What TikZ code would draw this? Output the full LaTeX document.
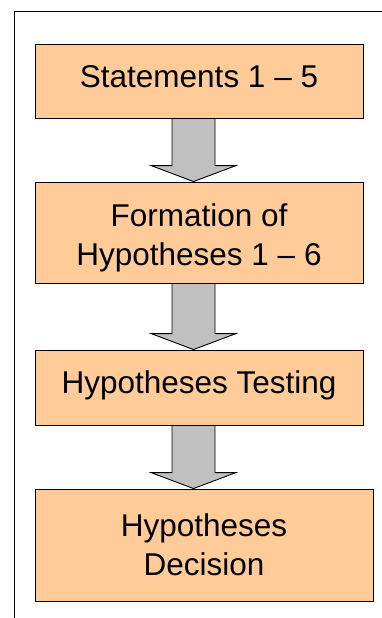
\documentclass[tikz,border=0pt]{standalone}
\usepackage{fontspec}
\setmainfont{Liberation Sans}
\usetikzlibrary{calc}
\definecolor{peach}{HTML}{FFCC99}
\definecolor{arrowgray}{HTML}{C0C0C0}
% block arrow from the bottom of one stage to the top of the next
\newcommand{\stagearrow}[2]{%
  \draw[flowarrow] let \p1=(#1.south), \p2=(#2.north) in
    (172pt,\y1) -- (215pt,\y1) -- (215pt,\y2+16pt) -- (236pt,\y2+16pt)
    -- (193.5pt,\y2) -- (151pt,\y2+16pt) -- (172pt,\y2+16pt) -- cycle;}
\begin{document}
\begin{tikzpicture}[x=1pt,y=-1pt,
  stage/.style={draw=black, line width=0.9pt, fill=peach, inner sep=0pt,
    font=\fontsize{31.5}{38.3}\selectfont, align=center,
    text height=12pt, text depth=0pt},
  flowarrow/.style={draw=black, line width=0.9pt, fill=arrowgray, line join=miter}]
\useasboundingbox (0,0) rectangle (382,618);
% partial outer frame
\draw[line width=1pt] (14,618) -- (14,12) -- (382,12);

\node[stage, minimum width=328pt, minimum height=74pt] (s1) at (199,81) {Statements 1 – 5};
\node[stage, minimum width=328pt, minimum height=101pt, text height=65pt] (s2) at (199,232.5) {Formation of\\Hypotheses 1 – 6};
\node[stage, minimum width=328pt, minimum height=75pt] (s3) at (199,387.5) {Hypotheses Testing};
\node[stage, minimum width=338pt, minimum height=112pt, text height=60pt] (s4) at (204,545) {Hypotheses\\Decision};

\stagearrow{s1}{s2}
\stagearrow{s2}{s3}
\stagearrow{s3}{s4}
\end{tikzpicture}
\end{document}
